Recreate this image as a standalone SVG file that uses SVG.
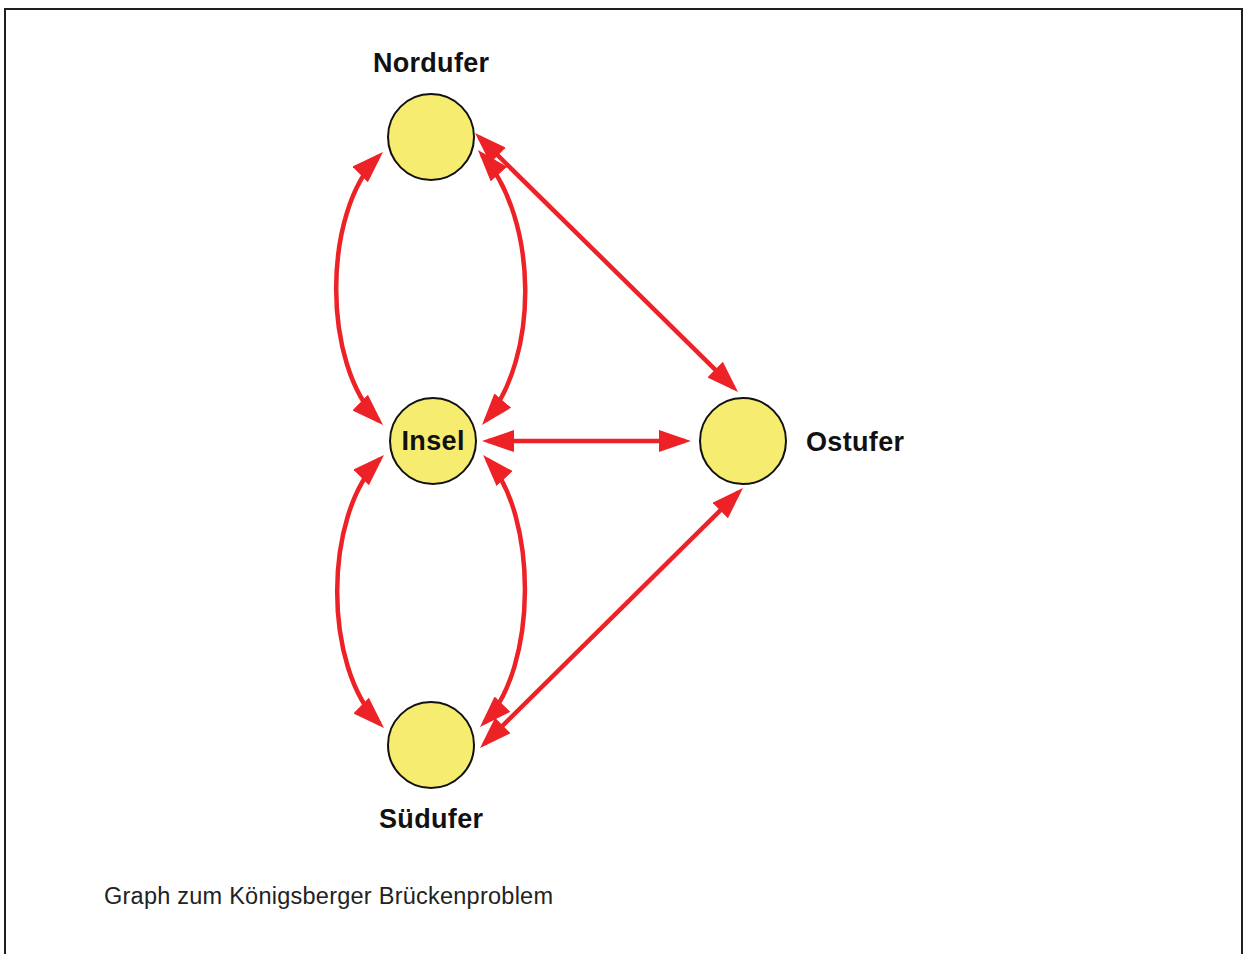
<svg xmlns="http://www.w3.org/2000/svg" width="1244" height="954" viewBox="0 0 1244 954">
<defs>
<style>
.node{fill:#f6ec6f;stroke:#111;stroke-width:2}
.lbl{font-family:"Liberation Sans",Arial,sans-serif;font-weight:bold;font-size:27px;fill:#111}
.edge{fill:none;stroke:#ed2227;stroke-width:4.5;marker-start:url(#ah);marker-end:url(#ah)}
.cap{font-family:"Liberation Sans",Arial,sans-serif;font-size:23.5px;fill:#222}
</style>
<marker id="ah" markerUnits="userSpaceOnUse" markerWidth="32" markerHeight="22" viewBox="0 0 32 22" refX="26" refY="11" orient="auto-start-reverse">
<path d="M0,0 L32,11 L0,22 z" fill="#ed2227"/>
</marker>
</defs>
<rect x="0" y="0" width="1244" height="954" fill="#fff"/>
<rect x="5" y="9" width="1237" height="980" fill="none" stroke="#231f20" stroke-width="2"/>
<g id="connectors">
<path class="edge" d="M378.7,156.2 C322,212 322,365 378.7,420.8"/>
<path class="edge" d="M481.9,154.5 C539,220 539,358 485.9,420.4"/>
<path class="edge" d="M379.7,459.2 C323,515 323,668 379.7,723.8"/>
<path class="edge" d="M487.1,459.4 C538,515 538,668 484.2,722.7"/>
<path class="edge" d="M479.3,137.2 L733.7,387.8"/>
<path class="edge" d="M488,441 L685,441"/>
<path class="edge" d="M738.7,492.2 L484.3,743.8"/>
</g>
<g id="nordufer">
<circle class="node" cx="431" cy="137" r="43"/>
<text class="lbl" x="431" y="72" text-anchor="middle" textLength="116">Nordufer</text>
</g>
<g id="insel">
<circle class="node" cx="433" cy="441" r="43"/>
<text class="lbl" x="433" y="450" text-anchor="middle" textLength="63">Insel</text>
</g>
<g id="suedufer">
<circle class="node" cx="431" cy="745" r="43"/>
<text class="lbl" x="431" y="828" text-anchor="middle" textLength="104">Südufer</text>
</g>
<g id="ostufer">
<circle class="node" cx="743" cy="441" r="43"/>
<text class="lbl" x="806" y="451" textLength="98">Ostufer</text>
</g>
<text class="cap" x="104" y="904" textLength="449">Graph zum Königsberger Brückenproblem</text>
</svg>
